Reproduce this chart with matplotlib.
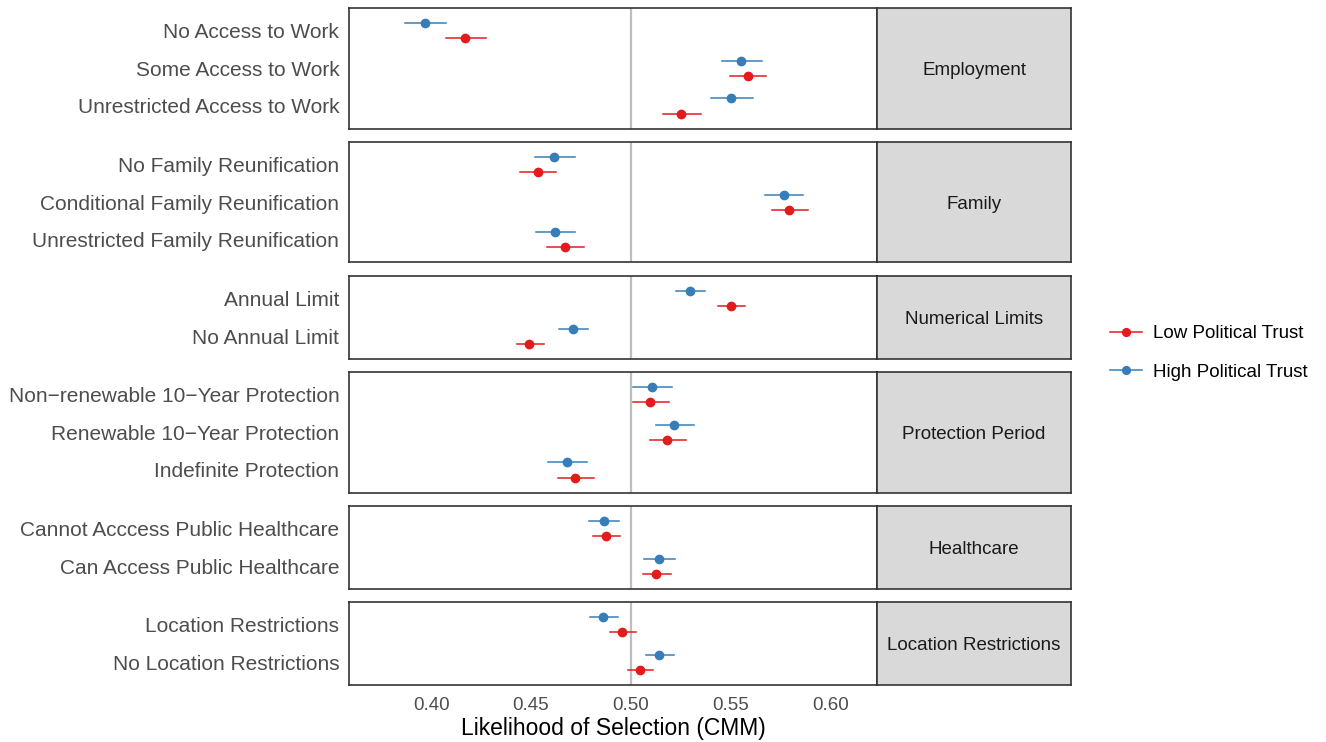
import matplotlib
matplotlib.use("Agg")
import matplotlib.pyplot as plt
from matplotlib.lines import Line2D
import numpy as np

plt.rcParams['font.family'] = ['Liberation Sans', 'DejaVu Sans']

facets = ["Employment", "Family", "Numerical Limits", "Protection Period",
          "Healthcare", "Location Restrictions"]

levels = ["No Access to Work", "Some Access to Work", "Unrestricted Access to Work",
          "No Family Reunification", "Conditional Family Reunification",
          "Unrestricted Family Reunification",
          "Annual Limit", "No Annual Limit",
          "Non\u2212renewable 10\u2212Year Protection", "Renewable 10\u2212Year Protection",
          "Indefinite Protection",
          "Cannot Acccess Public Healthcare", "Can Access Public Healthcare",
          "Location Restrictions", "No Location Restrictions"]

level_facet = ["Employment"] * 3 + ["Family"] * 3 + ["Numerical Limits"] * 2 + \
              ["Protection Period"] * 3 + ["Healthcare"] * 2 + ["Location Restrictions"] * 2

low_est = [0.4171, 0.5584, 0.5252, 0.4535, 0.5790, 0.4669, 0.5499, 0.4492,
           0.5096, 0.5183, 0.4722, 0.4875, 0.5127, 0.4956, 0.5046]
low_lo = [0.4076, 0.5496, 0.5159, 0.4445, 0.5704, 0.4580, 0.5437, 0.4430,
          0.5009, 0.5096, 0.4635, 0.4811, 0.5059, 0.4893, 0.4985]
low_hi = [0.4273, 0.5677, 0.5350, 0.4626, 0.5885, 0.4763, 0.5569, 0.4563,
          0.5189, 0.5274, 0.4816, 0.4948, 0.5200, 0.5024, 0.5113]

high_est = [0.3970, 0.5553, 0.5503, 0.4614, 0.5767, 0.4619, 0.5296, 0.4711,
            0.5105, 0.5218, 0.4680, 0.4863, 0.5141, 0.4861, 0.5141]
high_lo = [0.3870, 0.5457, 0.5401, 0.4519, 0.5672, 0.4524, 0.5225, 0.4640,
           0.5009, 0.5125, 0.4585, 0.4792, 0.5068, 0.4795, 0.5076]
high_hi = [0.4076, 0.5655, 0.5613, 0.4719, 0.5864, 0.4719, 0.5372, 0.4785,
           0.5205, 0.5318, 0.4780, 0.4939, 0.5220, 0.4934, 0.5215]

x_ticks = [0.40, 0.45, 0.50, 0.55, 0.60]
x_ticklabels = ["0.40", "0.45", "0.50", "0.55", "0.60"]

RED = "#E41A1C"
BLUE = "#377EB8"
BORDER = "#333333"

W, H = 1326, 742
fig = plt.figure(figsize=(W / 100, H / 100), dpi=100)

left_px, right_px, strip_right_px = 349, 877, 1071
top_px, bottom_px, gap_px = 8, 685, 13.3
n_per = [level_facet.count(f) for f in facets]
units = [n + 0.2 for n in n_per]
px_per_unit = (bottom_px - top_px - gap_px * (len(facets) - 1)) / sum(units)

y_cur = top_px
for fi, f in enumerate(facets):
    h_px = units[fi] * px_per_unit
    y0 = H - (y_cur + h_px)
    ax = fig.add_axes([left_px / W, y0 / H, (right_px - left_px) / W, h_px / H])
    sax = fig.add_axes([right_px / W, y0 / H, (strip_right_px - right_px) / W, h_px / H])
    y_cur += h_px + gap_px

    idx = [i for i, lf in enumerate(level_facet) if lf == f]
    n = len(idx)
    ypos = np.array([n - k for k in range(n)], dtype=float)

    ax.axvline(0.5, color="#BEBEBE", lw=1.6, zorder=1)
    for k, i in enumerate(idx):
        yh = ypos[k] + 0.2
        yl = ypos[k] - 0.2
        ax.plot([high_lo[i], high_hi[i]], [yh, yh], color=BLUE, lw=1.1, zorder=2)
        ax.plot([high_est[i]], [yh], 'o', color=BLUE, ms=6.0, zorder=3)
        ax.plot([low_lo[i], low_hi[i]], [yl, yl], color=RED, lw=1.1, zorder=2)
        ax.plot([low_est[i]], [yl], 'o', color=RED, ms=6.0, zorder=3)

    ax.set_xlim(0.3589, 0.6232)
    ax.set_ylim(0.4, n + 0.6)
    ax.set_yticks(ypos)
    ax.set_yticklabels([levels[i] for i in idx], fontsize=15, color="#4D4D4D")
    ax.tick_params(axis='y', length=0, pad=7)
    ax.set_xticks(x_ticks)
    if fi == len(facets) - 1:
        ax.set_xticklabels(x_ticklabels, fontsize=13.5, color="#4D4D4D")
        ax.tick_params(axis='x', length=0, pad=9)
        ax.set_xlabel("Likelihood of Selection (CMM)", fontsize=16.5, color="black", labelpad=2)
    else:
        ax.tick_params(axis='x', length=0, labelbottom=False)
    for s in ax.spines.values():
        s.set_color(BORDER)
        s.set_linewidth(1.2)

    sax.set_facecolor("#D9D9D9")
    sax.set_xticks([])
    sax.set_yticks([])
    for s in sax.spines.values():
        s.set_color(BORDER)
        s.set_linewidth(1.2)
    sax.text(0.5, 0.5, f, ha='center', va='center_baseline', fontsize=13.5, color="#1A1A1A",
             transform=sax.transAxes)

handles = [Line2D([0], [0], color=RED, lw=1.1, marker='o', ms=5.6),
           Line2D([0], [0], color=BLUE, lw=1.1, marker='o', ms=5.6)]
fig.legend(handles, ["Low Political Trust", "High Political Trust"],
           loc='center left', bbox_to_anchor=(1093 / W, 1 - 353 / H),
           frameon=False, fontsize=13.5, handlelength=1.7, handletextpad=0.6,
           labelspacing=1.15)

fig.savefig("out.png", dpi=100)
